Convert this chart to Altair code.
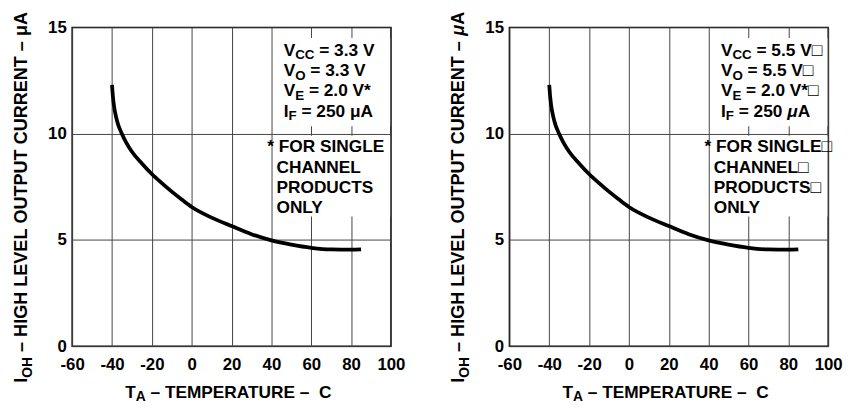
import altair as alt
import pandas as pd

# ---------------- data ----------------
temp_c = [-40, -39.5, -39, -38, -37, -36, -35, -33, -30, -25, -20, -15, -10, -5, 0, 10, 20, 30, 40, 50, 60, 70, 80, 85]
ioh_ua = [12.3, 11.7, 11.3, 10.8, 10.45, 10.2, 9.98, 9.6, 9.15, 8.6, 8.1, 7.67, 7.27, 6.9, 6.55, 6.05, 5.65, 5.27, 4.98, 4.78, 4.63, 4.55, 4.54, 4.56]
x_ticks = [-60, -40, -20, 0, 20, 40, 60, 80, 100]
y_ticks = [0, 5, 10, 15]

left_cond = [["V", "CC", " = 3.3 V"], ["V", "O", " = 3.3 V"], ["V", "E", " = 2.0 V*"], ["I", "F", " = 250 μA"]]
right_cond = [["V", "CC", " = 5.5 V□"], ["V", "O", " = 5.5 V□"], ["V", "E", " = 2.0 V*□"], ["I", "F", " = 250 ", "*μ", "A"]]
left_note = ["* FOR SINGLE", "CHANNEL", "PRODUCTS", "ONLY"]
right_note = ["* FOR SINGLE□", "CHANNEL□", "PRODUCTS□", "ONLY"]
left_ytitle = ["I", "OH", " – HIGH LEVEL OUTPUT CURRENT – μA"]
right_ytitle = ["I", "OH", " – HIGH LEVEL OUTPUT CURRENT – ", "*μ", "A"]
xtitle = ["T", "A", " – TEMPERATURE –  C"]

# white boxes behind the annotation blocks (data units)
box_x1 = [45, 42]
box_x2 = [99.6, 99.6]
box_y1 = [10.35, 6.1]
box_y2 = [14.5, 9.9]

# ---------------- layout helpers ----------------
W, H = 323, 323
FONT = "Liberation Sans"
WID = {" ": .278, "*": .389, ".": .278, "=": .584, "–": .556, "μ": .611, "□": .8,
       "A": .722, "C": .722, "D": .722, "E": .667, "F": .611, "G": .778, "H": .722, "I": .278,
       "L": .611, "M": .833, "N": .722, "O": .778, "P": .667, "R": .722, "S": .667, "T": .611,
       "U": .722, "V": .667, "Y": .667}
for d in "0123456789":
    WID[d] = .556


def tw(s, size):
    return sum(WID.get(c, .6) for c in s) * size


def runs(parts, x0, y0, main, sub, shift, angle=0):
    """parts: [prefix, subscript, rest, ...]; a leading '*' in later parts marks italic.
    Leading spaces are turned into an offset (text marks trim them)."""
    out = []
    pos = 0.0
    for i, p in enumerate(parts):
        italic = False
        if i >= 2 and p.startswith("*") and len(p) > 1:
            italic = True
            p = p[1:]
        size = sub if i == 1 else main
        sh = shift if i == 1 else 0
        lead = len(p) - len(p.lstrip(" "))
        start = pos + tw(" " * lead, size)
        txt = p.strip(" ").replace(" ", "\u00a0")
        if angle == 0:
            out.append(dict(text=txt, px=x0 + start, py=y0 + sh, size=size, italic=italic, angle=0))
        else:
            out.append(dict(text=txt, px=x0 + sh, py=y0 - start, size=size, italic=italic, angle=270))
        pos += tw(p, size)
    return out


def text_rows(cond, note, ytitle):
    rows = []
    base_y = [29, 49.5, 70, 90.5]
    for parts, by in zip(cond, base_y):
        rows += runs(parts, 214.3, by, 17.5, 13.5, 3.5)
    note_y = [126.7, 147.3, 168, 188.5]
    for i, (t, ny) in enumerate(zip(note, note_y)):
        rows.append(dict(text=t.replace(" ", "\u00a0"), px=197.7 if i == 0 else 207, py=ny,
                         size=17.5, italic=False, angle=0))
    rows += runs(ytitle, -45.5, 360, 18.3, 14, 4.5, angle=270)
    rows += runs(xtitle, 53.7, 375, 17.5, 14, 3.5)
    return pd.DataFrame(rows)


curve = pd.DataFrame({"T": temp_c, "I": ioh_ua})
boxes = pd.DataFrame({"x1": box_x1, "x2": box_x2, "y1": box_y1, "y2": box_y2})

xaxis = alt.Axis(values=x_ticks, title=None, labelExpr="'' + datum.value", labelPadding=11,
                 grid=True, labelFlush=False, labelOverlap=False)
yaxis = alt.Axis(values=y_ticks, title=None, labelPadding=6, grid=True, labelOverlap=False)
xscale = alt.Scale(domain=[-60, 100], nice=False, zero=False)
yscale = alt.Scale(domain=[0, 15], nice=False, zero=False)


def panel(cond, note, ytitle):
    rect = alt.Chart(boxes).mark_rect(fill="white", strokeWidth=0).encode(
        x=alt.X("x1:Q", scale=xscale, axis=xaxis), x2="x2:Q",
        y=alt.Y("y1:Q", scale=yscale, axis=yaxis), y2="y2:Q")
    line = alt.Chart(curve).mark_line(color="black", strokeWidth=3.8, interpolate="monotone").encode(
        x=alt.X("T:Q", scale=xscale, axis=xaxis),
        y=alt.Y("I:Q", scale=yscale, axis=yaxis))
    tdf = text_rows(cond, note, ytitle)
    layers = [rect, line]
    for (ang, ital), g in tdf.groupby(["angle", "italic"]):
        layers.append(
            alt.Chart(g.reset_index(drop=True)).mark_text(
                align="left", baseline="alphabetic", angle=int(ang), font=FONT, fontWeight="bold",
                fontStyle="italic" if ital else "normal", color="black").encode(
                x=alt.X("px:Q", scale=None, axis=None),
                y=alt.Y("py:Q", scale=None, axis=None),
                text="text:N",
                size=alt.Size("size:Q", scale=None, legend=None)))
    return alt.layer(*layers).properties(width=W, height=H)


chart = alt.hconcat(panel(left_cond, left_note, left_ytitle),
                    panel(right_cond, right_note, right_ytitle),
                    spacing=43).properties(
    padding={"left": 3, "top": 0, "right": 0, "bottom": 0}
).configure_view(stroke="black", strokeWidth=1.5).configure_axis(
    labelFont=FONT, labelFontWeight="bold", labelFontSize=17, labelColor="black",
    gridColor="#444444", gridWidth=1, gridOpacity=1, ticks=False, tickSize=0, domain=False)

chart.save("out.html", embed_options={"renderer": "svg", "actions": False})
